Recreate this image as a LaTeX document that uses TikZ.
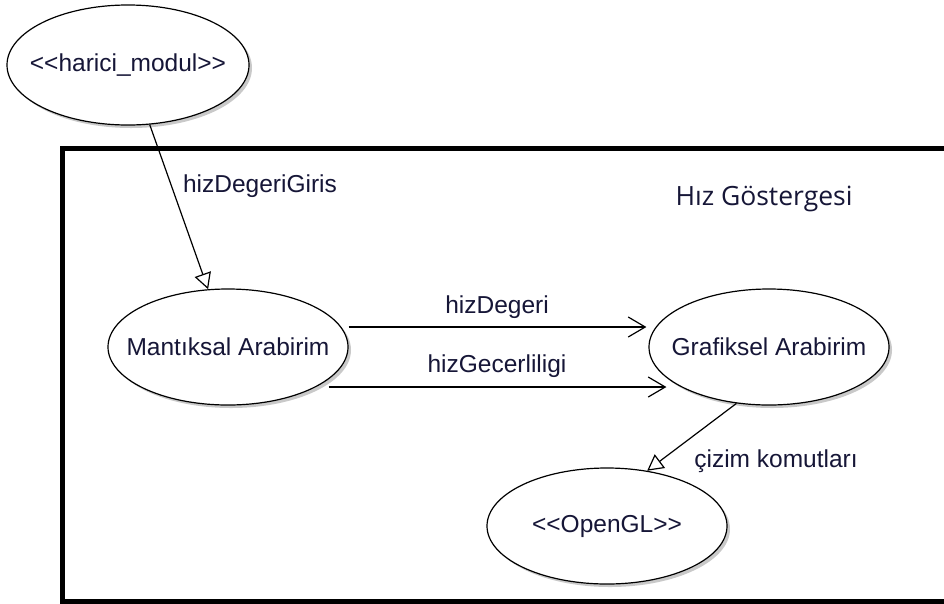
\documentclass[tikz,border=0pt]{standalone}
\usepackage{fontspec}
\setmainfont{Liberation Sans}
\newfontfamily\titlefont{Open Sans}
\usetikzlibrary{shapes.geometric,arrows.meta,shadows}
\definecolor{txt}{RGB}{22,22,55}
\newcommand{\uctext}[1]{\makebox[0pt]{#1}}
\tikzset{
  uc/.style={ellipse, draw=black, line width=1.2pt, fill=white,
    minimum width=240pt, minimum height=116pt, inner sep=0pt,
    text=txt, font=\fontsize{24.5}{28}\selectfont,
    drop shadow={shadow xshift=3pt, shadow yshift=-3pt, fill=black!35, opacity=0.6}},
  lbl/.style={text=txt, font=\fontsize{24.5}{28}\selectfont, inner sep=0pt},
  conn/.style={line width=1.2pt, draw=black},
  inh/.style={conn, -{Triangle[open, length=16pt, width=17pt, line width=1.2pt]}},
  msg/.style={conn, -{Straight Barb[length=17pt, width=20pt, line width=1.2pt]}}
}
\begin{document}
\begin{tikzpicture}[x=1pt, y=-1pt]
\useasboundingbox (0,0) rectangle (944,603);
\fill[white] (0,0) rectangle (944,603);
% system boundary
\draw[line width=5pt] (990,148) -- (62,148) -- (62,601) -- (990,601);
\node[lbl, font=\titlefont\fontsize{26.5}{30}\selectfont, anchor=center] (title) at (764,199) {Hız Göstergesi};
% use cases
\node[uc, minimum width=242pt, minimum height=120pt] (h) at (128,65) {\uctext{<\kern0pt<harici\_modul>\kern0pt>}};
\node[uc] (m) at (228,347) {\uctext{Mantıksal Arabirim}};
\node[uc] (g) at (769,347) {\uctext{Grafiksel Arabirim}};
\node[uc] (o) at (607,526) {\uctext{<\kern0pt<OpenGL>\kern0pt>}};
% connectors
\draw[inh] (h.-70) -- (m.109);
\draw[msg] ([yshift=20pt]m.east) -- ([xshift=-2pt,yshift=20pt]g.west);
\draw[msg] ([xshift=-20pt,yshift=-40pt]m.east) -- ([xshift=18pt,yshift=-40pt]g.west);
\draw[inh] (g.-120) -- (o.54);
% labels
\node[lbl] (l1) at (260,186) {hizDegeriGiris};
\node[lbl] (l2) at (497,307) {hizDegeri};
\node[lbl] (l3) at (497,366) {hizGecerliligi};
\node[lbl] (l4) at (776,461) {çizim komutları};
\end{tikzpicture}
\end{document}
